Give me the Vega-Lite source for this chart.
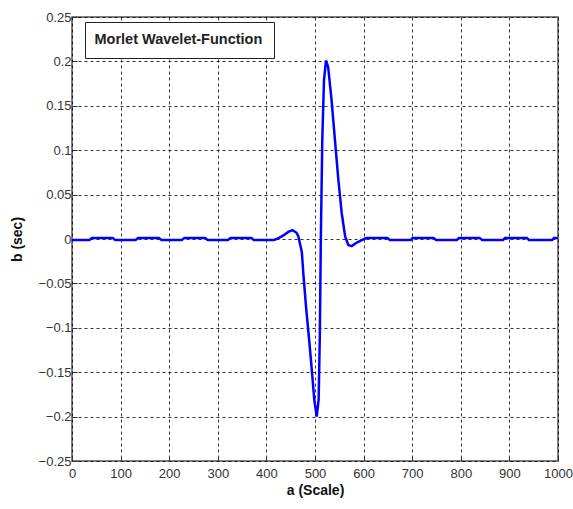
{
  "$schema": "https://vega.github.io/schema/vega-lite/v6.json",
  "width": 486,
  "height": 444,
  "autosize": "none",
  "padding": {"left": 72, "top": 17, "right": 15, "bottom": 48},
  "background": "white",
  "config": {
    "view": {"stroke": "#555", "strokeWidth": 1.5},
    "font": "Liberation Sans, Arial, sans-serif",
    "axis": {
      "labelFont": "Liberation Sans, Arial, sans-serif",
      "titleFont": "Liberation Sans, Arial, sans-serif",
      "labelFontSize": 13,
      "labelColor": "#333",
      "titleFontSize": 14,
      "titleFontWeight": "bold",
      "titleColor": "#111",
      "domain": false,
      "grid": true,
      "gridColor": "#000",
      "gridDash": [3, 3],
      "gridWidth": 1,
      "gridOpacity": 0.8,
      "ticks": true,
      "tickColor": "#333",
      "tickSize": -5,
      "labelPadding": 6
    }
  },
  "data": {
    "values": [
      {"a": 0, "b": -0.001}, {"a": 36, "b": -0.001}, {"a": 41, "b": 0.001}, {"a": 84, "b": 0.001},
      {"a": 89, "b": -0.001}, {"a": 131, "b": -0.001}, {"a": 136, "b": 0.001}, {"a": 179, "b": 0.001},
      {"a": 184, "b": -0.001}, {"a": 226, "b": -0.001}, {"a": 231, "b": 0.001}, {"a": 274, "b": 0.001},
      {"a": 279, "b": -0.001}, {"a": 321, "b": -0.001}, {"a": 326, "b": 0.001}, {"a": 369, "b": 0.001},
      {"a": 374, "b": -0.001}, {"a": 416, "b": -0.001},
      {"a": 425, "b": 0.001}, {"a": 435, "b": 0.004}, {"a": 445, "b": 0.008}, {"a": 454, "b": 0.010},
      {"a": 462, "b": 0.007}, {"a": 466, "b": 0.0026}, {"a": 469, "b": -0.005}, {"a": 473, "b": -0.015},
      {"a": 476, "b": -0.039}, {"a": 481.5, "b": -0.076}, {"a": 488, "b": -0.114}, {"a": 494, "b": -0.151},
      {"a": 498.5, "b": -0.181}, {"a": 503.5, "b": -0.2}, {"a": 507.5, "b": -0.181}, {"a": 510, "b": -0.106},
      {"a": 512, "b": 0}, {"a": 515, "b": 0.112}, {"a": 518.5, "b": 0.179}, {"a": 522.6, "b": 0.201},
      {"a": 527, "b": 0.194}, {"a": 534, "b": 0.157}, {"a": 541, "b": 0.112}, {"a": 548, "b": 0.067},
      {"a": 555, "b": 0.029}, {"a": 562, "b": 0.003}, {"a": 568.5, "b": -0.0068}, {"a": 575.5, "b": -0.008},
      {"a": 586, "b": -0.004}, {"a": 599.5, "b": -0.0004},
      {"a": 606, "b": 0.001}, {"a": 649, "b": 0.001}, {"a": 654, "b": -0.001}, {"a": 697, "b": -0.001},
      {"a": 701, "b": 0.001}, {"a": 744, "b": 0.001}, {"a": 749, "b": -0.001}, {"a": 792, "b": -0.001},
      {"a": 796, "b": 0.001}, {"a": 839, "b": 0.001}, {"a": 844, "b": -0.001}, {"a": 887, "b": -0.001},
      {"a": 891, "b": 0.001}, {"a": 936, "b": 0.001}, {"a": 940, "b": -0.001}, {"a": 988, "b": -0.001},
      {"a": 992, "b": 0.001}, {"a": 1000, "b": 0.001}
    ]
  },
  "transform": [{"calculate": "'Morlet Wavelet-Function'", "as": "series"}],
  "mark": {"type": "line", "strokeWidth": 2.5, "interpolate": "linear"},
  "encoding": {
    "x": {
      "field": "a", "type": "quantitative",
      "scale": {"domain": [0, 1000], "nice": false},
      "axis": {"title": "a (Scale)", "values": [0,100,200,300,400,500,600,700,800,900,1000], "format": "d", "labelPadding": 11, "titlePadding": 3, "labelFlush": false}
    },
    "y": {
      "field": "b", "type": "quantitative",
      "scale": {"domain": [-0.25, 0.25], "nice": false, "zero": false},
      "axis": {"title": "b (sec)", "values": [-0.25,-0.2,-0.15,-0.1,-0.05,0,0.05,0.1,0.15,0.2,0.25], "labelExpr": "format(datum.value, '.2~f')", "titlePadding": 14, "labelFlush": false}
    },
    "color": {
      "field": "series", "type": "nominal",
      "scale": {"range": ["#0000ff"]},
      "legend": {
        "title": null,
        "orient": "none",
        "legendX": 13,
        "legendY": 5,
        "symbolSize": 0,
        "symbolOpacity": 0,
        "symbolStrokeWidth": 0,
        "labelOffset": -16,
        "labelLimit": 400,
        "labelFont": "Liberation Sans, Arial, sans-serif",
        "labelFontSize": 14.5,
        "labelFontWeight": "bold",
        "labelColor": "#222",
        "strokeColor": "#222",
        "fillColor": "white",
        "padding": 11
      }
    }
  }
}
